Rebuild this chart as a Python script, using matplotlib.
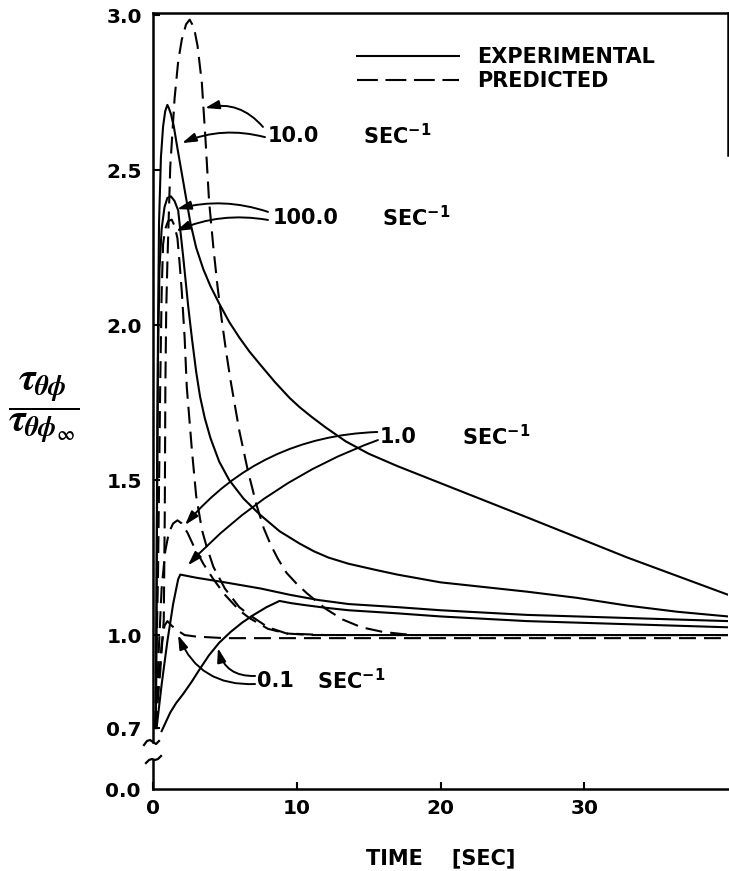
import matplotlib
matplotlib.use('Agg')
import matplotlib.pyplot as plt
from matplotlib.lines import Line2D
from matplotlib.transforms import IdentityTransform

plt.rcParams['font.family'] = ['DejaVu Sans']
plt.rcParams['font.weight'] = 'bold'
plt.rcParams['lines.scale_dashes'] = False
plt.rcParams['mathtext.fontset'] = 'custom'
plt.rcParams['mathtext.bf'] = 'DejaVu Sans:bold'
plt.rcParams['mathtext.rm'] = 'DejaVu Sans:bold'

# ---------------- data ----------------
# Experimental, 10.0 s^-1
e10_t = [0.2, 0.28, 0.35, 0.42, 0.55, 0.7, 0.85, 1.0, 1.1, 1.25, 1.45, 1.7, 2.0, 2.3, 2.6, 3.0, 3.5,
         4.0, 4.6, 5.3, 6.0, 6.7, 7.5, 8.5, 9.5, 10.2, 11.0, 12.0, 13.4, 15.0, 17.0, 20.0, 23.0, 26.0,
         29.5, 33.0, 36.5, 40.0]
e10_y = [0.70, 1.50, 2.00, 2.33, 2.54, 2.64, 2.69, 2.71, 2.70, 2.68, 2.64, 2.57, 2.49, 2.41, 2.33, 2.25, 2.18,
         2.125, 2.07, 2.01, 1.96, 1.915, 1.87, 1.815, 1.765, 1.735, 1.705, 1.67, 1.625, 1.585, 1.545, 1.49,
         1.435, 1.38, 1.315, 1.25, 1.19, 1.13]
# Experimental, 100.0 s^-1
e100_t = [0.2, 0.28, 0.35, 0.45, 0.6, 0.8, 1.0, 1.25, 1.5, 1.75, 2.1, 2.45, 2.7, 3.0, 3.27, 3.6, 4.0, 4.6,
          5.3, 6.3, 7.4, 8.8, 10.2, 11.2, 12.2, 13.6, 15.5, 17.0, 20.0, 23.0, 26.0, 29.5, 33.0, 36.5, 40.0]
e100_y = [0.70, 1.40, 1.90, 2.18, 2.31, 2.38, 2.41, 2.415, 2.40, 2.37, 2.22, 2.06, 1.96, 1.85, 1.77, 1.70, 1.635,
          1.56, 1.50, 1.44, 1.39, 1.335, 1.295, 1.27, 1.25, 1.23, 1.21, 1.195, 1.17, 1.155, 1.14, 1.12, 1.095,
          1.075, 1.06]
# Experimental, 1.0 s^-1
e1_t = [0.25, 0.6, 1.0, 1.4, 1.75, 1.9, 3.0, 5.0, 7.5, 9.5, 11.5, 13.6, 17.0, 20.0, 26.0, 33.0, 40.0]
e1_y = [0.70, 0.84, 0.98, 1.10, 1.18, 1.195, 1.185, 1.17, 1.15, 1.13, 1.113, 1.10, 1.09, 1.08, 1.065, 1.055, 1.045]
# Experimental, 0.1 s^-1
e01_t = [0.6, 0.9, 1.2, 1.6, 2.1, 2.7, 3.25, 3.9, 4.6, 5.4, 6.2, 7.0, 7.9, 8.8, 9.6, 10.5, 12.0, 13.6, 17.0,
         20.0, 26.0, 33.0, 40.0]
e01_y = [0.69, 0.72, 0.75, 0.78, 0.81, 0.85, 0.89, 0.935, 0.975, 1.01, 1.04, 1.065, 1.09, 1.11, 1.103, 1.097,
         1.088, 1.08, 1.07, 1.06, 1.045, 1.035, 1.025]

# Predicted, 10.0 s^-1
p10_t = [0.15, 0.5, 0.75, 0.82, 0.86, 0.92, 1.0, 1.2, 1.5, 1.75, 2.0, 2.3, 2.55, 2.85, 3.1, 3.4, 3.65,
         3.9, 4.2, 4.5, 4.8, 5.1, 5.4, 6.0, 6.6, 7.2, 7.7, 8.2, 8.7, 9.3, 10.0, 10.7, 12.0, 13.2, 14.5,
         16.0, 18.0, 20.0, 30.0, 40.0]
p10_y = [0.70, 0.88, 1.05, 1.40, 1.80, 2.05, 2.20, 2.51, 2.73, 2.85, 2.92, 2.97, 2.985, 2.96, 2.90, 2.78, 2.60,
         2.40, 2.25, 2.12, 2.01, 1.91, 1.82, 1.66, 1.53, 1.42, 1.345, 1.29, 1.245, 1.20, 1.165, 1.135, 1.085,
         1.05, 1.025, 1.01, 1.0, 1.0, 1.0, 1.0]
# Predicted, 100.0 s^-1
p100_t = [0.15, 0.35, 0.5, 0.6, 0.7, 0.85, 1.05, 1.3, 1.5, 1.7, 1.85, 2.0, 2.2, 2.35, 2.7, 3.0, 3.4, 3.7,
          4.2, 5.0, 6.0, 6.7, 8.0, 9.3, 12.0, 20.0, 30.0, 40.0]
p100_y = [0.70, 1.20, 1.80, 2.10, 2.26, 2.31, 2.335, 2.34, 2.32, 2.28, 2.20, 2.11, 1.96, 1.80, 1.60, 1.45, 1.34, 1.29,
          1.22, 1.15, 1.09, 1.065, 1.025, 1.005, 1.0, 1.0, 1.0, 1.0]
# Predicted, 1.0 s^-1
p1_t = [0.2, 0.4, 0.6, 0.85, 1.1, 1.4, 1.7, 2.0, 2.4, 2.8, 3.5, 4.2, 5.0, 6.0, 6.7, 8.0, 9.3, 11.0, 20.0, 30.0, 40.0]
p1_y = [0.70, 0.95, 1.15, 1.27, 1.33, 1.36, 1.37, 1.36, 1.33, 1.29, 1.23, 1.18, 1.13, 1.08, 1.055, 1.02, 1.005,
        1.0, 1.0, 1.0, 1.0]
# Predicted, 0.1 s^-1
p01_t = [0.2, 0.4, 0.6, 0.8, 1.0, 1.3, 1.7, 2.2, 3.0, 5.0, 8.0, 12.0, 20.0, 30.0, 40.0]
p01_y = [0.70, 0.85, 0.97, 1.03, 1.045, 1.03, 1.015, 1.0, 0.995, 0.99, 0.99, 0.99, 0.99, 0.99, 0.99]

experimental = [(e10_t, e10_y), (e100_t, e100_y), (e1_t, e1_y), (e01_t, e01_y)]
predicted = [(p10_t, p10_y), (p100_t, p100_y), (p1_t, p1_y), (p01_t, p01_y)]

y_ticks = [0.7, 1.0, 1.5, 2.0, 2.5, 3.0]
y_ticklabels = ['0.7', '1.0', '1.5', '2.0', '2.5', '3.0']
x_ticks = [0, 10, 20, 30]
x_ticklabels = ['0', '10', '20', '30']

# ---------------- figure ----------------
W, H = 729, 871
fig = plt.figure(figsize=(W / 100, H / 100), dpi=100)


def frac(x0, y0, x1, y1):
    return [x0 / W, 1 - y1 / H, (x1 - x0) / W, (y1 - y0) / H]


ax = fig.add_axes(frac(153, 13, 728, 742))
axb = fig.add_axes(frac(153, 760, 728, 789))

LW = 1.5
DASH = (0, (12.2, 5.8))
for t, y in experimental:
    ax.plot(t, y, color='black', lw=LW, solid_joinstyle='round')
for t, y in predicted:
    ax.plot(t, y, color='black', lw=LW, linestyle=DASH)

ax.set_xlim(0, 40)
ax.set_ylim(0.655, 3.0065)
axb.set_xlim(0, 40)
axb.set_ylim(0, 1)

for a in (ax, axb):
    for s in a.spines.values():
        s.set_linewidth(1.8)

ax.spines['bottom'].set_visible(False)
ax.spines['right'].set_bounds(2.55, 3.0065)
ax.tick_params(axis='x', bottom=False, labelbottom=False)
ax.set_yticks(y_ticks)
ax.set_yticklabels(y_ticklabels)
ax.tick_params(axis='y', direction='in', length=5, width=1.5, labelsize=14.5, pad=8)

axb.spines['top'].set_visible(False)
axb.spines['right'].set_visible(False)
axb.set_yticks([0.0])
axb.set_yticklabels(['0.0'])
axb.tick_params(axis='y', direction='in', length=0, labelsize=14.5, pad=9)
axb.set_xticks(x_ticks)
axb.set_xticklabels(x_ticklabels)
axb.tick_params(axis='x', direction='in', length=5, width=1.5, labelsize=14.5, pad=7)
axb.set_xlabel('TIME    [SEC]', fontsize=15, fontweight='bold', labelpad=22)

# legend
handles = [Line2D([], [], color='black', lw=LW),
           Line2D([], [], color='black', lw=LW, linestyle=(0, (15, 5.5)))]
ax.legend(handles, ['EXPERIMENTAL', 'PREDICTED'], loc='upper left',
          bbox_to_anchor=((357 - 153) / 575, 1 - (47 - 13) / 729),
          frameon=False, handlelength=4.9, handletextpad=0.85, labelspacing=0.2,
          borderaxespad=0, borderpad=0, prop={'weight': 'bold', 'size': 15})

# annotations
sec = r'$\mathbf{SEC}^{\mathbf{-1}}$'
labels = [('10.0', 8.0, 2.61, 14.6), ('100.0', 8.35, 2.345, 15.9),
          ('1.0', 15.8, 1.64, 21.5), ('0.1', 7.23, 0.852, 11.4)]
for txt, x, y, xs in labels:
    ax.text(x, y, txt, fontsize=15, fontweight='bold', va='center', ha='left')
    ax.text(xs, y, sec, fontsize=15, va='center', ha='left')

arrows = [((7.65, 2.639), (3.62, 2.70), 0.3),
          ((7.79, 2.606), (2.02, 2.587), 0.17),
          ((8.0, 2.365), (1.67, 2.374), 0.15),
          ((8.0, 2.339), (1.60, 2.303), 0.15),
          ((15.6, 1.655), (2.23, 1.355), 0.22),
          ((15.65, 1.629), (2.43, 1.225), 0.12),
          ((7.10, 0.868), (4.52, 0.958), -0.4),
          ((7.10, 0.842), (1.74, 1.0), -0.35)]
for tail, tip, rad in arrows:
    ax.annotate('', xy=tip, xytext=tail,
                arrowprops=dict(arrowstyle='-|>,head_length=0.7,head_width=0.22',
                                connectionstyle=f'arc3,rad={rad}', color='black',
                                lw=1.4, shrinkA=0, shrinkB=0, mutation_scale=12))

# y label
fig.text(44 / W, 1 - 408 / H, r'$\dfrac{\tau_{\theta\phi}}{\tau_{\theta\phi_{\infty}}}$',
         fontsize=28, ha='center', va='center', math_fontfamily='stix')

# axis break marks
brk1x = [144, 147, 150, 153, 156, 159]
brk1y = [745, 741, 740, 742, 744, 741]
brk2x = [146, 149, 152, 155, 158, 161]
brk2y = [763, 760, 759, 760, 759, 756]
for bx, by in ((brk1x, brk1y), (brk2x, brk2y)):
    fig.add_artist(Line2D(bx, [H - v for v in by], transform=IdentityTransform(),
                          color='black', lw=1.6))

fig.savefig('out.png', dpi=100)
